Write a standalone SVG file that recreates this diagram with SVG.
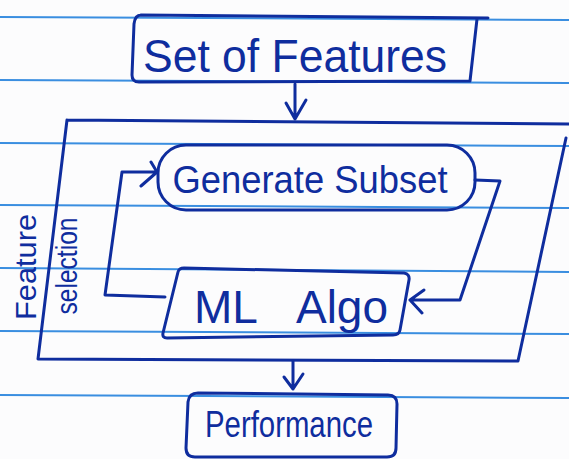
<svg xmlns="http://www.w3.org/2000/svg" width="569" height="459" viewBox="0 0 569 459">
  <style>
    .rule { stroke: #3a8ee0; stroke-width: 2; fill: none; }
    .ink { stroke: #0f2d9e; stroke-width: 3; fill: none; stroke-linecap: round; stroke-linejoin: round; }
    .lbl { fill: #0f2d9e; font-family: "Liberation Sans", "DejaVu Sans", sans-serif; text-anchor: middle; }
  </style>
  <rect width="569" height="459" fill="#fcfcfd"/>
  <g id="ruled-paper">
    <line class="rule" x1="0" y1="17" x2="569" y2="20"/>
    <line class="rule" x1="0" y1="80" x2="569" y2="83"/>
    <line class="rule" x1="0" y1="143" x2="569" y2="146"/>
    <line class="rule" x1="0" y1="205" x2="569" y2="208"/>
    <line class="rule" x1="0" y1="268" x2="569" y2="272"/>
    <line class="rule" x1="0" y1="331" x2="569" y2="334"/>
    <line class="rule" x1="0" y1="395" x2="569" y2="398"/>
  </g>

  <g id="feature-selection">
    <path class="ink" d="M67,120 L569,124 M566,138 L518,361 L38,359 L67,120"/>
    <text class="lbl" transform="translate(36,267) rotate(-90)" font-size="30" textLength="106" lengthAdjust="spacingAndGlyphs">Feature</text>
    <text class="lbl" transform="translate(77,266) rotate(-90)" font-size="30" textLength="97" lengthAdjust="spacingAndGlyphs">selection</text>
  </g>

  <g id="set-of-features">
    <path class="ink" d="M141,15 L488,18 M477,19 L470,81 L139,82 Q132,82 132,75 L134,24 Q135,15 141,15"/>
    <text class="lbl" x="295" y="72" font-size="46" textLength="304" lengthAdjust="spacingAndGlyphs">Set of Features</text>
  </g>

  <g id="generate-subset">
    <rect class="ink" x="158" y="145" width="317" height="65" rx="28" ry="28"/>
    <text class="lbl" x="310" y="193" font-size="38" textLength="275" lengthAdjust="spacingAndGlyphs">Generate Subset</text>
  </g>

  <g id="ml-algo">
    <path class="ink" d="M184,268 L404,273 Q410,274 409,280 L400,330 Q399,335 393,335 L167,338 Q162,338 163,333 L178,272 Q179,268 184,268 Z"/>
    <text class="lbl" y="323" font-size="46"><tspan x="226">ML</tspan><tspan x="342">Algo</tspan></text>
  </g>

  <g id="performance">
    <path class="ink" d="M198,393 L388,395 Q397,395 397,404 L396,448 Q396,457 387,457 L195,457 Q186,457 186,448 L188,402 Q189,393 198,393 Z"/>
    <text class="lbl" x="289" y="437" font-size="36" textLength="168" lengthAdjust="spacingAndGlyphs">Performance</text>
  </g>

  <g id="connectors">
    <!-- Set of Features -> Feature selection -->
    <path class="ink" d="M295,84 L295,119 M286,103 L295,119 L306,100"/>
    <!-- Generate Subset -> ML Algo -->
    <path class="ink" d="M475,180 L500,181 L460,300 L410,300 M424,290 L410,300 L422,313"/>
    <!-- ML Algo -> Generate Subset (loop) -->
    <path class="ink" d="M165,297 L105,295 L122,172 L157,172 M151,162 L157,172 L141,186"/>
    <!-- Feature selection -> Performance -->
    <path class="ink" d="M293,361 L293,389 M284,377 L293,389 L303,374"/>
  </g>
</svg>
